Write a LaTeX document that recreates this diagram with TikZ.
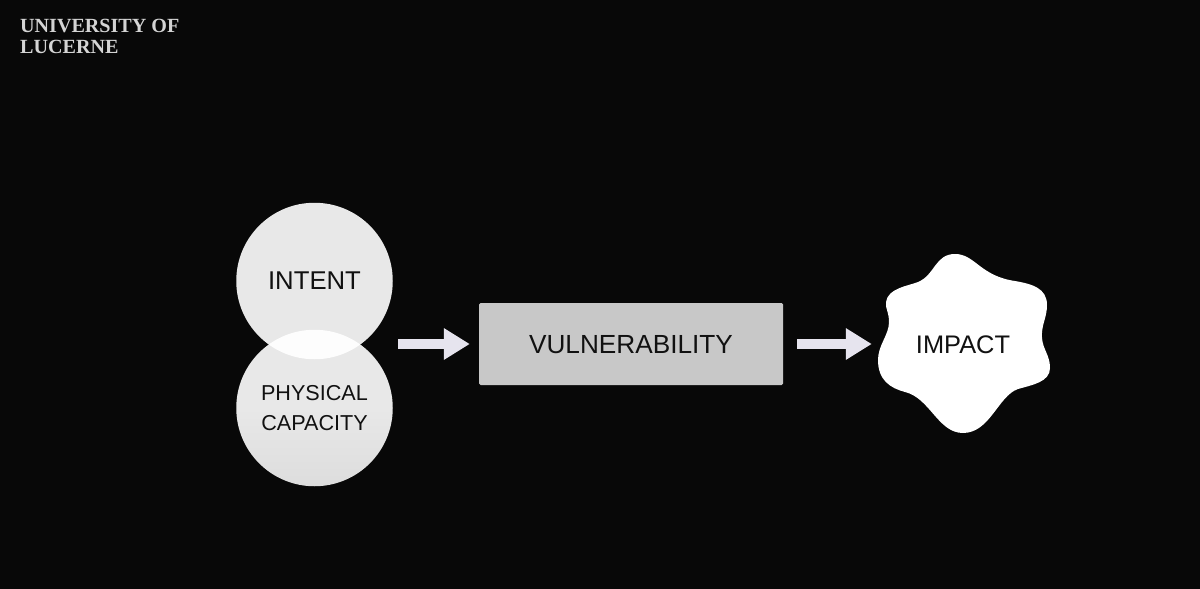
\documentclass[tikz,border=0pt]{standalone}
\usepackage{fontspec}
\setmainfont{Liberation Sans}
\newfontfamily\serifbrand{Liberation Serif}
\usetikzlibrary{arrows.meta}
\definecolor{bgc}{HTML}{080808}
\definecolor{circc}{HTML}{E8E8E8}
\definecolor{circd}{HTML}{DDDDDD}
\definecolor{boxc}{HTML}{C8C8C8}
\definecolor{arrc}{HTML}{E6E4EE}
\definecolor{inkc}{HTML}{111111}
\definecolor{brandc}{HTML}{D4D4D4}
\tikzset{
  label28/.style={text=inkc,font=\fontsize{#1}{#1}\selectfont,inner sep=0pt,align=center},
  flow/.style={draw=arrc,line width=9.5pt,-{Triangle[length=26pt,width=30pt,color=arrc]}},
  disc/.style={circle,minimum size=156.5pt,inner sep=0pt},
}
\begin{document}
\begin{tikzpicture}[x=1pt,y=-1pt]
\useasboundingbox (0,0) rectangle (1200,589);
\fill[bgc] (0,0) rectangle (1200,589);
% title
\node[anchor=base west,inner sep=0pt,text=brandc,font=\serifbrand\bfseries\fontsize{20.1}{21}\selectfont] (brandA) at (20,32) {UNIVERSITY OF};
\node[anchor=base west,inner sep=0pt,text=brandc,font=\serifbrand\bfseries\fontsize{20.1}{21}\selectfont] (brandB) at (20,53) {LUCERNE};
% circles
\node[disc,fill=circc] (intent) at (314.5,281) {};
\node[disc,top color=circc,bottom color=circd,middle color=circc] (phys) at (314.5,408) {};
% lens
\begin{scope}
\clip (314.5,281) circle (78.25);
\fill[white!92!circc] (314.5,408) circle (78.25);
\end{scope}
\node[label28=25.7] at (intent) {INTENT};
\node[label28=21.6] (physlabel) at (314.5,411) {\begin{tabular}{@{}c@{}}PHYSICAL\\[8pt]CAPACITY\end{tabular}};
% box
\node[rectangle,rounded corners=1.5pt,fill=boxc,minimum width=304pt,minimum height=82pt,inner sep=0pt] (box) at (631,344) {};
\node[label28=26.2] (boxlabel) at (631,345) {VULNERABILITY};
% blob
\fill[white] (955,254)
 .. controls (975,254) and (980,276) .. (1015,281)
 .. controls (1032,284) and (1047,288) .. (1047,305)
 .. controls (1047,318) and (1041,325) .. (1042,338)
 .. controls (1043,350) and (1050,355) .. (1050,368)
 .. controls (1050,382) and (1032,385) .. (1018,389)
 .. controls (998,396) and (990,433) .. (963,433)
 .. controls (938,433) and (930,398) .. (905,392)
 .. controls (890,388) and (878,380) .. (878,360)
 .. controls (878,345) and (889,335) .. (889,322)
 .. controls (889,312) and (885,308) .. (886,302)
 .. controls (888,288) and (908,286) .. (918,282)
 .. controls (935,275) and (935,254) .. (955,254) -- cycle;
\node[label28=25.4] (impact) at (963,345) {IMPACT};
% connectors
\coordinate (startA) at (398,344);
\draw[flow,shorten >=9pt] (startA) -- (box.west);
\draw[flow,shorten <=14pt,shorten >=44pt] (box.east) -- (box.east -| impact.west);
\end{tikzpicture}
\end{document}
